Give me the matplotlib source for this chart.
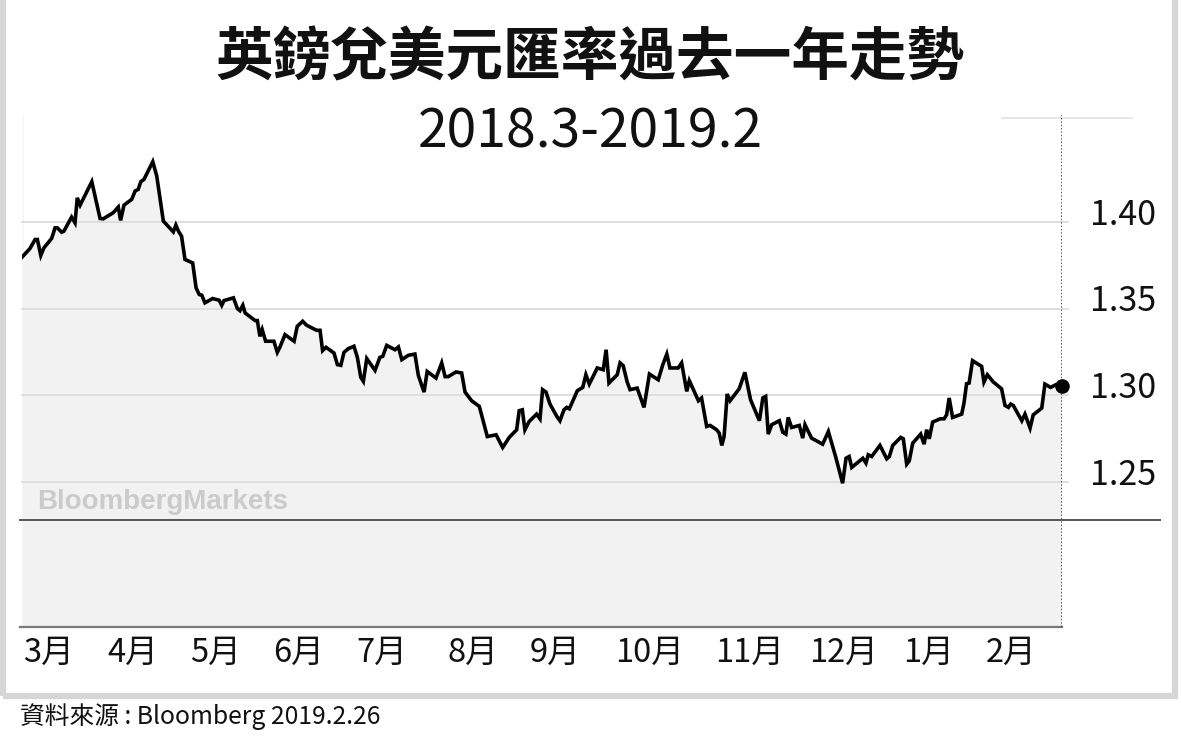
import matplotlib
matplotlib.use("Agg")
import matplotlib.pyplot as plt
from matplotlib.patches import Rectangle

plt.rcParams['font.family'] = ['Noto Sans CJK TC', 'DejaVu Sans']

# days since 2018-02-26, GBP/USD close
days = [0, 2.8, 4.6, 5.4, 6.6, 7.7, 10.4, 11.6, 12.4, 13.9, 14.7, 17.4, 18.6, 19.4, 20.4,
        24.5, 27.4, 28.5, 32.0, 33.8, 34.6, 35.8, 38.5, 39.7, 40.8, 41.7, 42.8, 45.9, 47.3,
        49.6, 53.1, 54.0, 54.9, 56.0, 57.2, 59.9, 61.1, 62.2, 63.1, 64.2, 66.9, 69.2, 70.1,
        70.9, 74.2, 75.6, 76.5, 77.5, 78.3, 81.8, 82.6, 83.5, 84.3, 85.5, 88.4, 89.6, 90.5,
        92.3, 95.5, 96.6, 98.5, 99.9, 103.4, 104.6, 105.5, 106.7, 109.5, 110.7, 111.9, 113.0,
        114.5, 116.5, 117.7, 118.9, 119.8, 121.0, 123.9, 125.6, 126.6, 128.0, 130.9, 132.1,
        133.3, 135.6, 137.9, 139.1, 141.1, 142.2, 145.3, 147.3, 148.5, 149.6, 152.3, 154.3,
        155.5, 157.8, 160.5, 161.9, 163.3, 166.4, 168.7, 171.0, 173.6, 174.5, 175.6, 176.5,
        178.0, 180.6, 181.8,
        182.7, 183.9, 185.3, 187.7, 188.8, 190.2, 191.2, 192.1, 194.9, 196.8, 197.9, 199.1,
        201.9, 204.0, 205.0, 206.0, 208.9, 209.9, 211.0, 212.4, 213.4, 215.9, 218.3, 220.2,
        223.3, 224.9, 226.3, 227.4, 230.3, 231.5, 233.3, 234.2, 237.4, 238.5, 240.3, 241.5,
        243.8, 244.7, 245.6, 246.4, 247.5, 248.5, 251.7, 253.7, 255.7, 258.8, 260.0, 261.0,
        261.9, 263.1, 265.8, 267.0, 268.1, 268.9, 270.1, 272.8,
        274.0, 274.8, 277.1, 281.0, 283.0, 285.7, 288.0, 289.2, 290.3, 291.2, 295.1, 296.2,
        297.0, 298.2, 301.1, 303.5, 304.4, 305.6, 308.4, 309.3, 310.5, 311.4, 312.6, 315.4,
        316.6, 317.5, 318.4, 319.6, 322.2, 323.6, 324.5, 325.4, 326.6, 329.8, 330.6, 331.5,
        332.4, 333.6, 336.8, 337.6, 338.8, 340.9, 343.8, 345.0, 346.2, 347.0, 347.9, 350.9,
        352.0, 353.8, 354.9, 357.9, 359.0, 361.0, 362.9, 365.0]

rates = [1.3796, 1.3846, 1.3898, 1.3898, 1.3806, 1.3850, 1.3904, 1.3965, 1.3965, 1.3940,
         1.3946, 1.4027, 1.3994, 1.4138, 1.4096, 1.4231, 1.4019, 1.4017, 1.4052, 1.4085,
         1.4008, 1.4096, 1.4129, 1.4177, 1.4187, 1.4231, 1.4244, 1.4346, 1.4263, 1.4004,
         1.3942, 1.3981, 1.3946, 1.3917, 1.3783, 1.3763, 1.3619, 1.3581, 1.3577, 1.3533,
         1.3558, 1.3548, 1.3519, 1.3546, 1.3562, 1.3500, 1.3488, 1.3519, 1.3475, 1.3431,
         1.3431, 1.3340, 1.3379, 1.3312, 1.3312, 1.3248, 1.3277,
         1.3350, 1.3312, 1.3398, 1.3427, 1.3404, 1.3375, 1.3375, 1.3258, 1.3277, 1.3244,
         1.3177, 1.3173, 1.3248, 1.3269, 1.3283, 1.3219, 1.3104, 1.3081, 1.3212, 1.3144,
         1.3219, 1.3225, 1.3288, 1.3263, 1.3279, 1.3206, 1.3231, 1.3238, 1.3115, 1.3019,
         1.3138, 1.3100, 1.3187, 1.3108, 1.3108, 1.3135, 1.3129, 1.3019, 1.2969, 1.2937,
         1.2850, 1.2763, 1.2773, 1.2700, 1.2758, 1.2802, 1.2912, 1.2917, 1.2802, 1.2850,
         1.2892, 1.2865,
         1.3033, 1.3019, 1.2950, 1.2879, 1.2854, 1.2917, 1.2931, 1.2923, 1.3027, 1.3046,
         1.3119, 1.3065, 1.3158, 1.3148, 1.3263, 1.3071, 1.3119, 1.3187, 1.3171, 1.3077,
         1.3033, 1.3042, 1.2931, 1.3123, 1.3090, 1.3177, 1.3238, 1.3158, 1.3158, 1.3187,
         1.3023, 1.3085, 1.2969, 1.2985, 1.2821, 1.2827, 1.2802, 1.2783, 1.2712, 1.2763,
         1.3008, 1.2969, 1.3038, 1.3133, 1.2975, 1.2854, 1.2985, 1.2994, 1.2777, 1.2831,
         1.2854, 1.2788, 1.2777, 1.2873, 1.2815, 1.2827,
         1.2754, 1.2831, 1.2754, 1.2719, 1.2792, 1.2638, 1.2494, 1.2638, 1.2648, 1.2585,
         1.2638, 1.2610, 1.2658, 1.2648, 1.2712, 1.2635, 1.2648, 1.2712, 1.2758, 1.2750,
         1.2604, 1.2623, 1.2725, 1.2777, 1.2719, 1.2802, 1.2750, 1.2846, 1.2865, 1.2865,
         1.2888, 1.2985, 1.2873, 1.2892, 1.2956, 1.3067, 1.3071, 1.3200, 1.3167, 1.3077,
         1.3119, 1.3077, 1.3038, 1.2942, 1.2931, 1.2950, 1.2942, 1.2854, 1.2892, 1.2812,
         1.2888, 1.2927, 1.3065, 1.3046, 1.3062, 1.3052]

month_labels = ['3月', '4月', '5月', '6月', '7月', '8月', '9月', '10月', '11月', '12月', '1月', '2月']
month_label_days = [0.5, 29.8, 58.9, 88.0, 117.2, 149.5, 178.2, 208.0, 243.4, 276.4, 309.4, 338.2]
y_ticks = [1.25, 1.30, 1.35, 1.40]
ref_level = 1.228
y_min, y_max = 1.1666, 1.4615

W, H = 1181, 745
fig = plt.figure(figsize=(W / 100, H / 100), dpi=100)
fig.patch.set_facecolor('white')

# card border
fig.add_artist(Rectangle((3 / W, (H - 695.5) / H), 1172 / W, 1.2, transform=fig.transFigure,
                         fill=False, edgecolor='#d6d6d6', linewidth=4.5))

ax = fig.add_axes([22 / W, (H - 627) / H, 1040 / W, 512 / H])
ax.set_xlim(0, 365)
ax.set_ylim(y_min, y_max)
ax.axis('off')

ax.fill_between(days, rates, y_min, color='#f2f2f2', lw=0, zorder=1)

for t in y_ticks:
    ax.axhline(t, xmin=0, xmax=1.0058, color='#dcdcdc', lw=1.3, clip_on=False, zorder=2)
    ax.text(1.027, t - 0.0016, f'{t:.2f}', transform=ax.get_yaxis_transform(),
            ha='left', va='baseline', fontsize=24.5, color='#111111')
ax.axhline(1.46, xmin=0.942, xmax=1.067, color='#e3e3e3', lw=1.3, clip_on=False, zorder=2)

ax.axhline(ref_level, xmin=-0.002, xmax=1.094, color='#555555', lw=1.4, clip_on=False, zorder=3)
ax.axhline(y_min, xmin=-0.002, xmax=1.0, color='#7a7a7a', lw=1.6, clip_on=False, zorder=3)
ax.axvline(0.3, color='#f3f3f3', lw=0.8, zorder=0)
ax.axvline(365, color='#333333', lw=1.1, ls=(0, (1, 1.2)), zorder=3)

ax.plot(days, rates, color='black', lw=2.6, solid_joinstyle='miter', zorder=4)
ax.plot(days[-1], rates[-1], 'o', color='black', markersize=9.5, zorder=5, clip_on=False)

ax.text((37 - 22) / 1040 * 365, ref_level + 0.0068, 'BloombergMarkets', family='Liberation Sans',
        fontweight='bold', fontsize=20, color='#cbcbcb', ha='left', va='baseline', zorder=2)

for lab, d in zip(month_labels, month_label_days):
    ax.text(d, -0.0508, lab, transform=ax.get_xaxis_transform(), ha='left', va='center',
            fontsize=23.5, color='#111111')

fig.text(590 / W, 1 - 58 / H, '英鎊兌美元匯率過去一年走勢', ha='center', va='center',
         fontsize=41.5, fontweight='bold', color='#111111')
fig.text(590 / W, 1 - 132 / H, '2018.3-2019.2', ha='center', va='center',
         fontsize=38.5, color='#111111')
fig.text(20 / W, 1 - 717 / H, '資料來源 : Bloomberg 2019.2.26', ha='left', va='center',
         fontsize=17.8, color='#111111')

fig.savefig('out.png', dpi=100)
